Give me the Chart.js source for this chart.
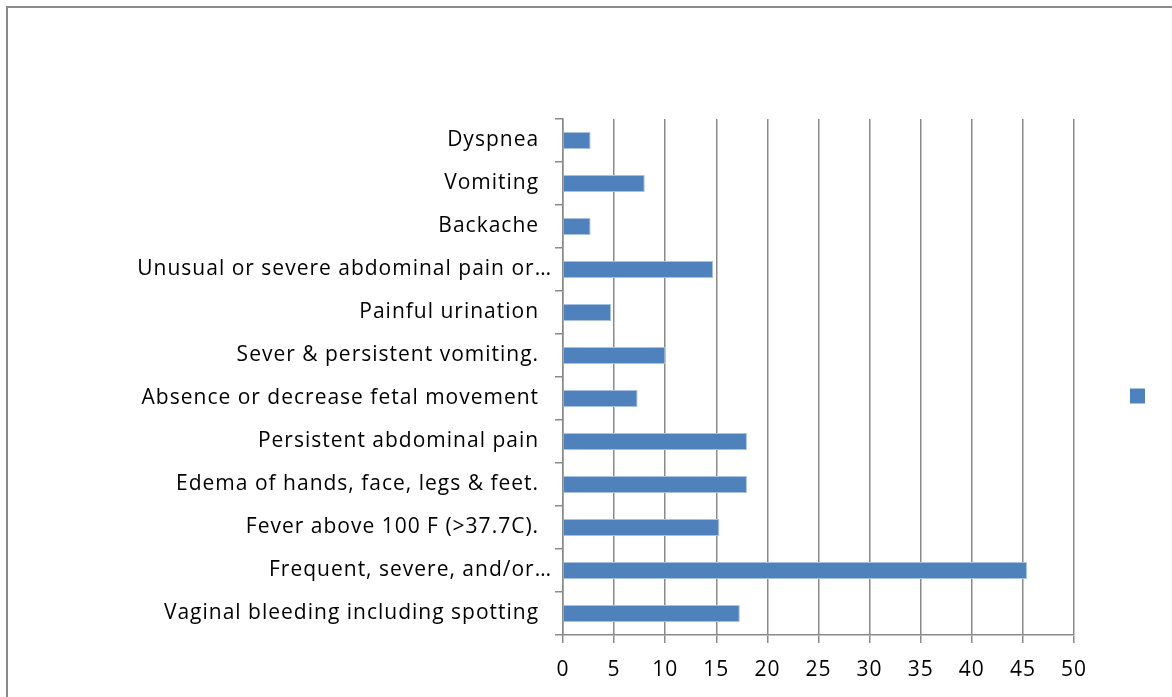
<!DOCTYPE html>
<html>
<head>
<meta charset="utf-8">
<script src="https://cdn.jsdelivr.net/npm/chart.js@4.4.1/dist/chart.umd.min.js"></script>
<style>
  html, body { margin: 0; padding: 0; background: #ffffff; overflow: hidden; }
  #wrap { position: relative; width: 1172px; height: 697px; }
  #frame { position: absolute; left: 6px; top: 6px; width: 1300px; height: 800px;
           border-left: 2px solid #8a8a8a; border-top: 2px solid #8a8a8a; box-sizing: border-box; }
  canvas { position: absolute; left: 0; top: 0; }
</style>
</head>
<body>
<div id="wrap">
  <div id="frame"></div>
  <canvas id="c" width="1172" height="697"></canvas>
</div>
<script>
// ---- data (listed top-to-bottom as in the reference) ----
const categories = [
  "Dyspnea",
  "Vomiting",
  "Backache",
  "Unusual or severe abdominal pain or…",
  "Painful urination",
  "Sever & persistent vomiting.",
  "Absence or decrease fetal movement",
  "Persistent abdominal pain",
  "Edema of hands, face, legs & feet.",
  "Fever above 100 F (>37.7C).",
  "Frequent, severe, and/or…",
  "Vaginal bleeding including spotting"
];
const values = [2.7, 8.0, 2.7, 14.7, 4.7, 10.0, 7.3, 18.0, 18.0, 15.3, 45.4, 17.3];
const xTicks = [0, 5, 10, 15, 20, 25, 30, 35, 40, 45, 50];
const seriesName = "";

const FONT = "'Open Sans', 'Noto Sans', sans-serif";
const GRID = "#8a8a8a";
const BAR = "#4f81bd";

const letterSpacing = {
  id: "letterSpacing",
  beforeDraw(chart) { chart.ctx.letterSpacing = "1px"; }
};

const legendSquare = {
  id: "legendSquare",
  afterDraw(chart) {
    const a = chart.chartArea, ctx = chart.ctx;
    const cy = (a.top + a.bottom) / 2 + 19;
    ctx.save();
    ctx.fillStyle = chart.data.datasets[0].backgroundColor;
    ctx.fillRect(a.right + 56, cy - 7.5, 15, 15);
    ctx.restore();
  }
};

new Chart(document.getElementById("c"), {
  type: "bar",
  data: {
    labels: categories,
    datasets: [{
      label: seriesName,
      data: values,
      backgroundColor: BAR,
      borderColor: "#a9c1e0",
      borderWidth: 1,
      categoryPercentage: 1.0,
      barPercentage: 0.4
    }]
  },
  options: {
    indexAxis: "y",
    responsive: false,
    animation: false,
    devicePixelRatio: 1,
    layout: { padding: { left: 0, right: 98, top: 119, bottom: 0 } },
    plugins: { legend: { display: false }, tooltip: { enabled: false } },
    scales: {
      x: {
        min: 0, max: 50,
        afterBuildTicks(s) { s.ticks = xTicks.map(v => ({ value: v })); },
        afterFit(s) { s.height = 62; },
        grid: { color: GRID, lineWidth: 1.5, drawTicks: true, tickLength: 8, tickColor: GRID },
        border: { display: true, color: GRID, width: 1.5 },
        ticks: { color: "#000", padding: 14, font: { family: FONT, size: 21 } }
      },
      y: {
        afterFit(s) { s.width = 563; },
        grid: { display: true, drawOnChartArea: false, drawTicks: true, tickLength: 8, color: GRID, lineWidth: 1.5, offset: true },
        border: { display: true, color: GRID, width: 1.5 },
        ticks: {
          color: "#000", padding: 3, font: { family: FONT, size: 21 },
          callback(v, i) {
            const t = categories[i];
            return t.endsWith("…") ? t : t + "  ";
          }
        }
      }
    }
  },
  plugins: [letterSpacing, legendSquare]
});
</script>
</body>
</html>
